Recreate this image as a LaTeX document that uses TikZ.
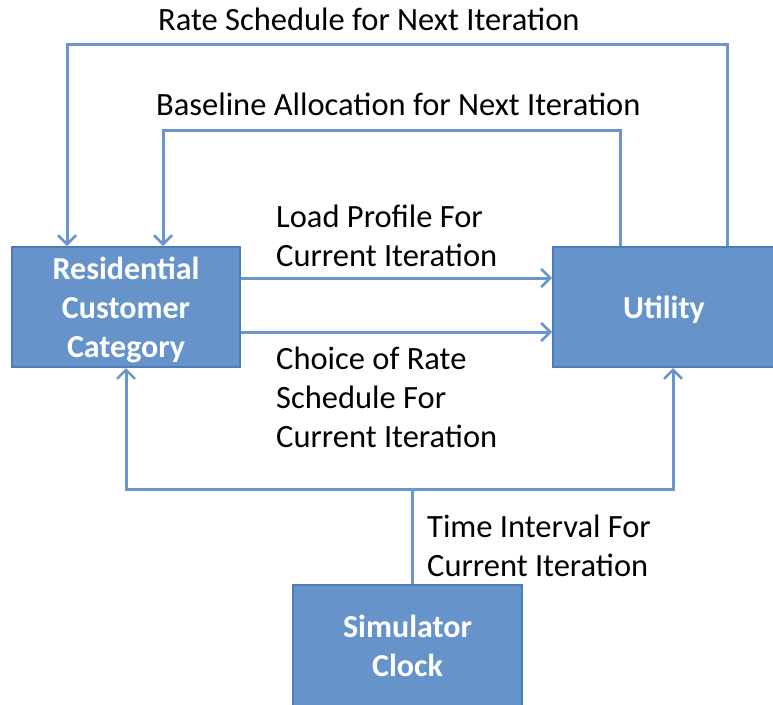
\documentclass[tikz,border=0pt]{standalone}
\usepackage{fontspec}
\setmainfont{Carlito}
\usetikzlibrary{arrows.meta, positioning}

\definecolor{boxfill}{RGB}{102,147,202}
\definecolor{boxline}{RGB}{78,124,184}
\definecolor{flowline}{RGB}{106,150,205}

\begin{document}
\begin{tikzpicture}[x=1pt, y=-1pt,
    blockbox/.style={rectangle, draw=boxline, fill=boxfill, line width=2pt, text=white,
        font=\fontsize{32}{39}\selectfont\bfseries, align=center, text depth=-9pt},
    flow/.style={draw=flowline, line width=3pt,
        -{Straight Barb[length=9pt, width=18pt, line width=2.6pt]}},
    flowlabel/.style={font=\fontsize{32.5}{39}\selectfont, align=left, inner sep=0pt}]
                \useasboundingbox (0,0) rectangle (773,704);

                % Nodes
                \node (res) [blockbox, minimum width=228pt, minimum height=120pt] at (126,307) {Residential\\Customer\\Category};
                \node (util) [blockbox, minimum width=222pt, minimum height=120pt] at (664,307) {Utility};
                \node (clock) [blockbox, minimum width=229pt, minimum height=121pt] at (407.5,645.5) {Simulator\\Clock};

                % Corners of the connectors
                \coordinate (outerR) at (727,44);
                \coordinate (outerL) at (67,44);
                \coordinate (innerR) at (620,130);
                \coordinate (innerL) at (163,130);
                \coordinate (split) at (412,489);
                \coordinate (utilB) at (673,489);

                % Labels
                \node (ratelbl) [flowlabel, anchor=base west] at (158,30) {Rate Schedule for Next Iteration};
                \node (baselbl) [flowlabel, anchor=base west] at (156,115) {Baseline Allocation for Next Iteration};
                \node (loadlbl) [flowlabel, anchor=north west] at (276,205) {Load Profile For\\Current Iteration};
                \node (choicelbl) [flowlabel, anchor=north west] at (276,347) {Choice of Rate\\Schedule For\\Current Iteration};
                \node (timelbl) [flowlabel, anchor=north west] at (427,515) {Time Interval For\\Current Iteration};

                % Arrows
                \draw[flow] (util.north -| outerR) -- (outerR) -- (outerL) -- (res.north -| outerL);
                \draw[flow] (util.north -| innerR) -- (innerR) -- (innerL) -- (res.north -| innerL);
                \draw[flow] ([yshift=29pt]res.east) -- ([yshift=29pt]util.west);
                \draw[flow] ([yshift=-25pt]res.east) -- ([yshift=-25pt]util.west);
                \draw[flow] (clock.north -| split) -- (split) -| (res.south);
                \draw[flow] (split) -- (utilB) -- (util.south -| utilB);
            \end{tikzpicture}
\end{document}
